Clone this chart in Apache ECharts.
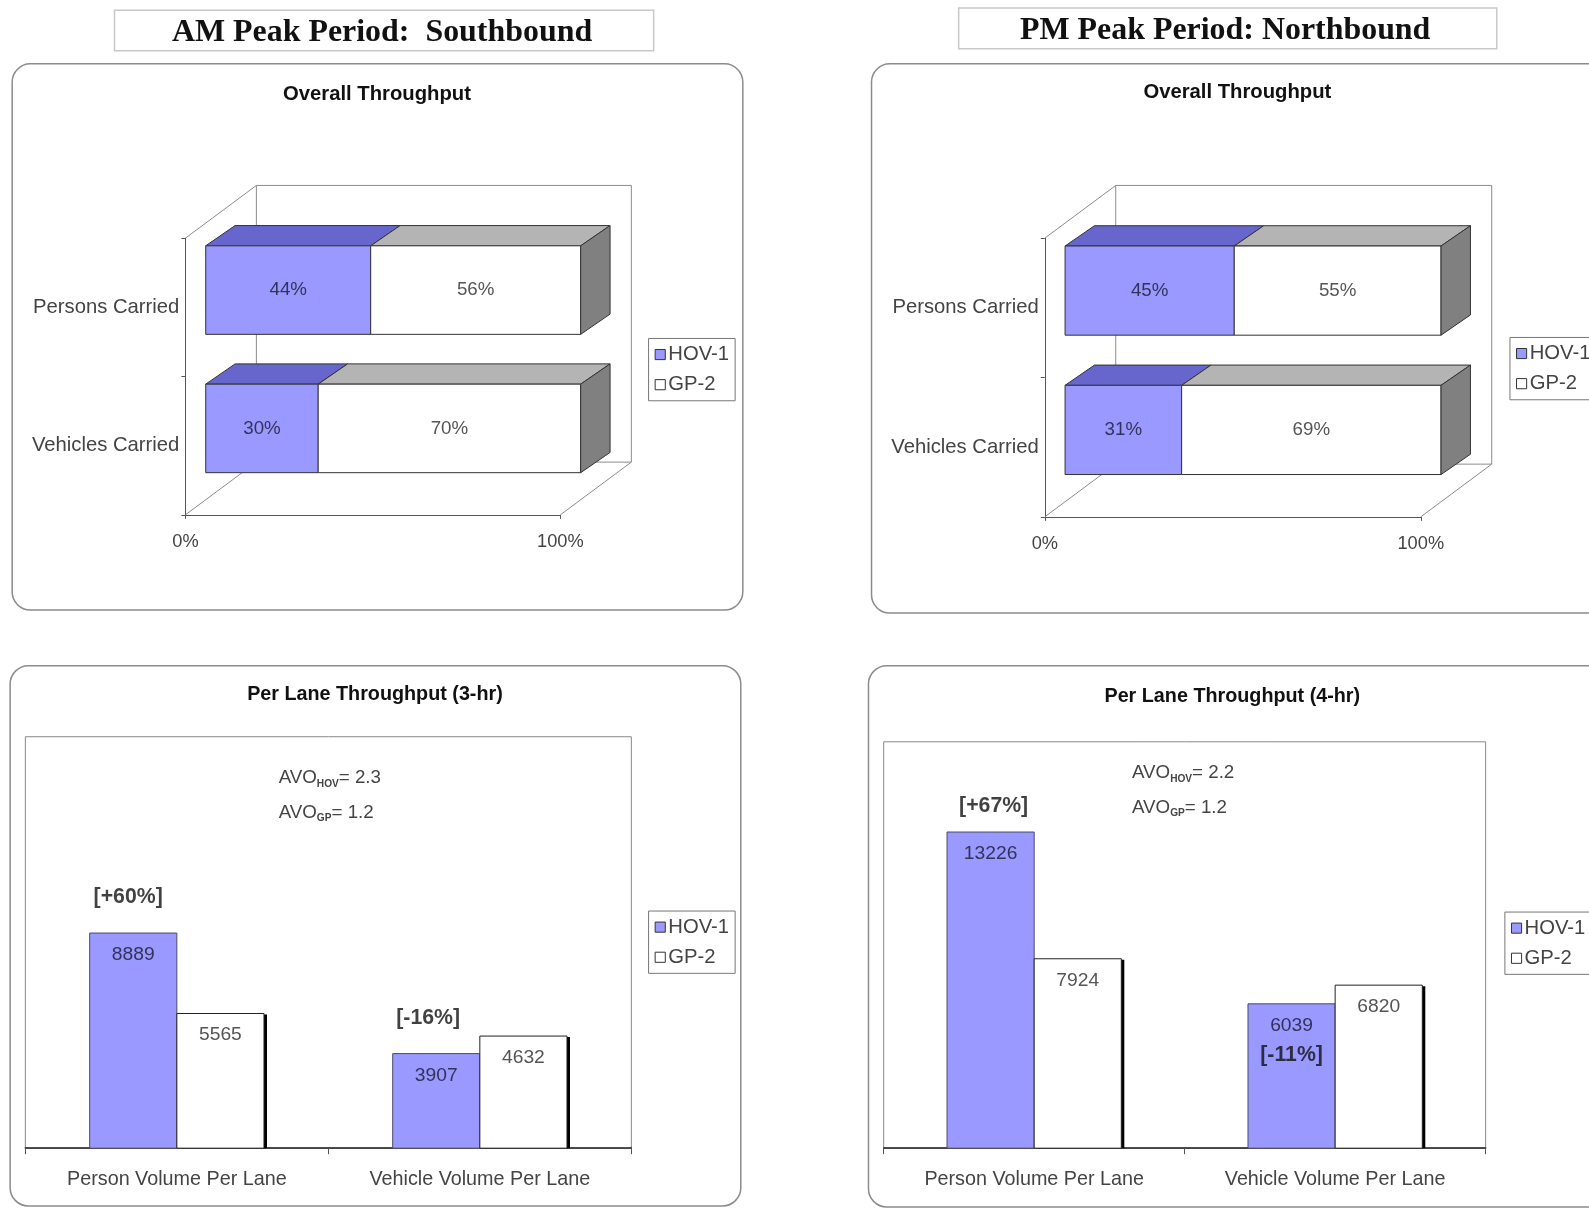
<!DOCTYPE html>
<html><head><meta charset="utf-8">
<script src="https://cdn.jsdelivr.net/npm/echarts@6/dist/echarts.min.js"></script>
<style>html,body{margin:0;padding:0;background:#fff}#c{width:1589px;height:1209px}</style>
</head><body><div id="c"></div>
<script>
// ---------- data ----------
const seriesNames = ['HOV-1', 'GP-2'];
const shareCategories = ['Persons Carried', 'Vehicles Carried'];
const amShareHov = [44, 30];
const amShareGp = [56, 70];
const pmShareHov = [45, 31];
const pmShareGp = [55, 69];
const shareAxisMax = 100;

const laneCategories = ['Person Volume Per Lane', 'Vehicle Volume Per Lane'];
const amLaneHov = [8889, 3907];
const amLaneGp = [5565, 4632];
const pmLaneHov = [13226, 6039];
const pmLaneGp = [7924, 6820];
const amLaneChange = ['[+60%]', '[-16%]'];
const pmLaneChange = ['[+67%]', '[-11%]'];
const laneAxisMax = 17000;
const amAvoHov = '2.3', amAvoGp = '1.2';
const pmAvoHov = '2.2', pmAvoGp = '1.2';

// ---------- layout helpers ----------
const S = 1589 / 1568;
const px = v => v * S;
const SANS = 'Arial, "Liberation Sans", sans-serif';
const SERIF = '"Times New Roman", "Liberation Serif", serif';
const HOV = '#9999ff', HOV_TOP = '#6666cc', GP = '#ffffff', GP_TOP = '#b4b4b4', GP_SIDE = '#808080';

function gridBox(x0, y0, x1, y1, show) {
  return { left: px(x0), top: px(y0), width: px(x1 - x0), height: px(y1 - y0),
    show: !!show, borderColor: '#8a8a8a', borderWidth: 1, backgroundColor: 'transparent',
    containLabel: false, outerBoundsMode: 'none' };
}

// 3D frame (walls/floor) drawn from the grid's coordinate system
function frameRender(params, api) {
  const c = params.coordSys;
  const Dx = px(70), Dy = px(-52);
  const x = c.x, y = c.y, w = c.width, h = c.height;
  const ls = { stroke: '#8c8c8c', lineWidth: 1, fill: null };
  const line = (a, b) => ({ type: 'line', shape: { x1: a[0], y1: a[1], x2: b[0], y2: b[1] }, style: ls });
  return { type: 'group', children: [
    { type: 'rect', shape: { x: x + Dx, y: y + Dy, width: w, height: h }, style: { fill: '#fff', stroke: '#8c8c8c', lineWidth: 1 } },
    line([x, y], [x + Dx, y + Dy]),
    line([x, y + h], [x + Dx, y + h + Dy]),
    line([x + w, y + h], [x + w + Dx, y + h + Dy]),
  ]};
}

function barRender(isLast, front, top, labelColor) {
  return function (params, api) {
    const idx = api.value(2);
    const a = api.coord([api.value(0), idx]);
    const b = api.coord([api.value(1), idx]);
    const band = api.size([0, 1])[1];
    const h = band * 0.64;
    const ox = px(20), oy = px(-17), dx = px(29), dy = px(-20);
    const x0 = a[0] + ox, x1 = b[0] + ox, yT = a[1] - h / 2 + oy, yB = a[1] + h / 2 + oy;
    const st = { stroke: '#333', lineWidth: 1 };
    const ch = [
      { type: 'polygon', shape: { points: [[x0, yT], [x0 + dx, yT + dy], [x1 + dx, yT + dy], [x1, yT]] }, style: Object.assign({ fill: top }, st) },
      { type: 'rect', shape: { x: x0, y: yT, width: x1 - x0, height: h }, style: Object.assign({ fill: front }, st) },
    ];
    if (isLast) ch.push({ type: 'polygon', shape: { points: [[x1, yT], [x1 + dx, yT + dy], [x1 + dx, yB + dy], [x1, yB]] }, style: Object.assign({ fill: GP_SIDE }, st) });
    ch.push({ type: 'text', x: (x0 + x1) / 2, y: yT + h * 0.5, style: { text: api.value(3) + '%', align: 'center', verticalAlign: 'middle', textAlign: 'center', textVerticalAlign: 'middle', font: px(18.5) + 'px ' + SANS, fill: labelColor } });
    return { type: 'group', children: ch };
  };
}

function shareSeries(gi, hov, gp) {
  return [
    { type: 'custom', xAxisIndex: gi, yAxisIndex: gi, z: 1, silent: true, renderItem: frameRender, data: [[0, 0]], encode: { x: 0, y: 1 } },
    { type: 'custom', name: seriesNames[0], xAxisIndex: gi, yAxisIndex: gi, z: 3, itemStyle: { color: HOV },
      renderItem: barRender(false, HOV, HOV_TOP, '#33335a'),
      encode: { x: [0, 1], y: 2 },
      data: shareCategories.map((c, i) => [0, hov[i], i, hov[i]]) },
    { type: 'custom', name: seriesNames[1], xAxisIndex: gi, yAxisIndex: gi, z: 3, itemStyle: { color: GP },
      renderItem: barRender(true, GP, GP_TOP, '#555'),
      encode: { x: [0, 1], y: 2 },
      data: shareCategories.map((c, i) => [hov[i], hov[i] + gp[i], i, gp[i]]) },
  ];
}

// lane bars: side -1 = left half of the category band, +1 = right half
function laneBarRender(side, fill, stroke, labelColor, shadow) {
  return function (params, api) {
    const i = api.value(0), v = api.value(1);
    const top = api.coord([i, v]);
    const base = api.coord([i, 0]);
    const w = px(86);
    const x = side < 0 ? top[0] - w : top[0];
    const hgt = base[1] - top[1];
    const ch = [];
    if (shadow) ch.push({ type: 'rect', shape: { x: x + 3, y: top[1] + 1, width: w, height: hgt - 1 }, style: { fill: '#000' } });
    ch.push({ type: 'rect', shape: { x: x, y: top[1], width: w, height: hgt }, style: { fill: fill, stroke: stroke, lineWidth: 1 } });
    ch.push({ type: 'text', x: x + w / 2, y: top[1] + px(12), style: { text: String(v), align: 'center', verticalAlign: 'top', textAlign: 'center', textVerticalAlign: 'top', font: px(19) + 'px ' + SANS, fill: labelColor } });
    return { type: 'group', children: ch };
  };
}

function laneSeries(gi, hov, gp, change, offsets) {
  return [
    { type: 'custom', name: seriesNames[0], xAxisIndex: gi, yAxisIndex: gi, z: 3, itemStyle: { color: HOV },
      renderItem: laneBarRender(-1, HOV, '#4a4a6a', '#33335a', false),
      encode: { x: 0, y: 1 }, data: hov.map((v, i) => [i, v]) },
    { type: 'custom', name: seriesNames[1], xAxisIndex: gi, yAxisIndex: gi, z: 3, itemStyle: { color: GP },
      renderItem: laneBarRender(1, GP, '#222', '#555', true),
      encode: { x: 0, y: 1 }, data: gp.map((v, i) => [i, v]) },
    { type: 'scatter', xAxisIndex: gi, yAxisIndex: gi, silent: true, z: 5, symbolSize: 1,
      itemStyle: { color: 'rgba(0,0,0,0)' },
      data: hov.map((v, i) => ({ value: [i, v], label: { offset: [px(offsets[i][0]), px(offsets[i][1])] } })),
      label: { show: true, position: 'inside', formatter: p => change[p.dataIndex], fontSize: px(21), fontWeight: 'bold', fontFamily: SANS, color: '#111' } },
  ];
}

function shareAxes(gi) {
  return {
    x: { type: 'value', gridIndex: gi, min: 0, max: shareAxisMax, interval: shareAxisMax,
      axisLine: { show: true, lineStyle: { color: '#555', width: 1 } },
      axisTick: { show: true, length: 4, lineStyle: { color: '#555' } },
      splitLine: { show: false },
      axisLabel: { formatter: '{value}%', margin: px(18), fontSize: px(18), fontFamily: SANS, color: '#444' } },
    y: { type: 'category', gridIndex: gi, data: shareCategories, inverse: true,
      axisLine: { show: true, lineStyle: { color: '#555', width: 1 } },
      axisTick: { show: true, length: 4, lineStyle: { color: '#555' } },
      splitLine: { show: false },
      axisLabel: { margin: px(6), fontSize: px(20), fontFamily: SANS, color: '#444' } }
  };
}
function laneAxes(gi) {
  return {
    x: { type: 'category', gridIndex: gi, data: laneCategories,
      axisLine: { show: true, lineStyle: { color: '#222', width: 1.5 } },
      axisTick: { show: true, length: 6, lineStyle: { color: '#555' } },
      axisLabel: { margin: px(21), fontSize: px(19.5), fontFamily: SANS, color: '#444' } },
    y: { type: 'value', gridIndex: gi, min: 0, max: laneAxisMax, show: false, splitLine: { show: false } }
  };
}

const axesList = [shareAxes(0), shareAxes(1), laneAxes(2), laneAxes(3)];

function legendAt(x, y) {
  return { orient: 'vertical', left: px(x), top: px(y), padding: [px(6), px(6)], itemGap: px(10),
    itemWidth: px(10), itemHeight: px(10), icon: 'rect',
    borderColor: '#777', borderWidth: 1, backgroundColor: '#fff',
    selectedMode: false,
    textStyle: { fontSize: px(20), fontFamily: SANS, color: '#444', padding: [0, 0, 0, -2] },
    data: [
      { name: seriesNames[0], itemStyle: { color: HOV, borderColor: '#333', borderWidth: 1 } },
      { name: seriesNames[1], itemStyle: { color: GP, borderColor: '#333', borderWidth: 1 } },
    ] };
}

function txt(text, x, y, font, fill, align) {
  return { type: 'text', x: px(x), y: px(y), z: 10,
    style: { text: text, font: font, fill: fill || '#000', align: align || 'center', verticalAlign: 'middle',
      textAlign: align || 'center', textVerticalAlign: 'middle' } };
}
function avo(sub, val, x, y) {
  return { type: 'text', x: px(x), y: px(y), z: 10,
    style: { text: 'AVO{s|' + sub + '}= ' + val, font: px(18.5) + 'px ' + SANS, fill: '#444',
      align: 'left', verticalAlign: 'middle', textAlign: 'left', textVerticalAlign: 'middle',
      rich: { s: { fontSize: px(10), fontWeight: 'bold', fontFamily: SANS, fill: '#444', padding: [px(11), 0, 0, 0] } } } };
}
function box(x0, y0, x1, y1, r, stroke, lw) {
  return { type: 'rect', z: 0, silent: true, shape: { x: px(x0), y: px(y0), width: px(x1 - x0), height: px(y1 - y0), r: px(r) },
    style: { fill: 'none', stroke: stroke, lineWidth: lw } };
}

const option = {
  backgroundColor: '#fff',
  animation: false,
  grid: [
    gridBox(183, 235, 553, 508),
    gridBox(1031, 235, 1402, 510),
    gridBox(25, 727, 623, 1133, true),
    gridBox(872, 732, 1466, 1133, true),
  ],
  xAxis: axesList.map(a => a.x),
  yAxis: axesList.map(a => a.y),
  legend: [legendAt(640, 334), legendAt(1490, 333), legendAt(640, 899), legendAt(1485, 900)],
  graphic: { elements: [
    box(12, 63, 733, 602, 18, '#8c8c8c', 1.5),
    box(860, 63, 1620, 605, 18, '#8c8c8c', 1.5),
    box(10, 657, 731, 1190, 18, '#8c8c8c', 1.5),
    box(857, 657, 1620, 1191, 18, '#8c8c8c', 1.5),
    box(113, 10, 645, 50, 0, '#c8c8c8', 1.5),
    box(946, 8, 1477, 48, 0, '#c8c8c8', 1.5),
    txt('AM Peak Period:  Southbound', 377, 32, 'bold ' + px(31.5) + 'px ' + SERIF, '#111'),
    txt('PM Peak Period: Northbound', 1209, 30, 'bold ' + px(31.5) + 'px ' + SERIF, '#111'),
    txt('Overall Throughput', 372, 93, 'bold ' + px(20) + 'px ' + SANS, '#111'),
    txt('Overall Throughput', 1221, 91, 'bold ' + px(20) + 'px ' + SANS, '#111'),
    txt('Per Lane Throughput (3-hr)', 370, 685, 'bold ' + px(19.5) + 'px ' + SANS, '#111'),
    txt('Per Lane Throughput (4-hr)', 1216, 687, 'bold ' + px(19.5) + 'px ' + SANS, '#111'),
    avo('HOV', amAvoHov, 275, 768),
    avo('GP', amAvoGp, 275, 802),
    avo('HOV', pmAvoHov, 1117, 763),
    avo('GP', pmAvoGp, 1117, 797),
  ] },
  series: [].concat(
    shareSeries(0, amShareHov, amShareGp),
    shareSeries(1, pmShareHov, pmShareGp),
    laneSeries(2, amLaneHov, amLaneGp, amLaneChange, [[-48, -35], [-51, -35]]),
    laneSeries(3, pmLaneHov, pmLaneGp, pmLaneChange, [[-40, -26], [-43, 51]])
  )
};

const chart = echarts.init(document.getElementById('c'), null, { renderer: 'canvas' });
chart.setOption(option);
</script>
</body></html>
